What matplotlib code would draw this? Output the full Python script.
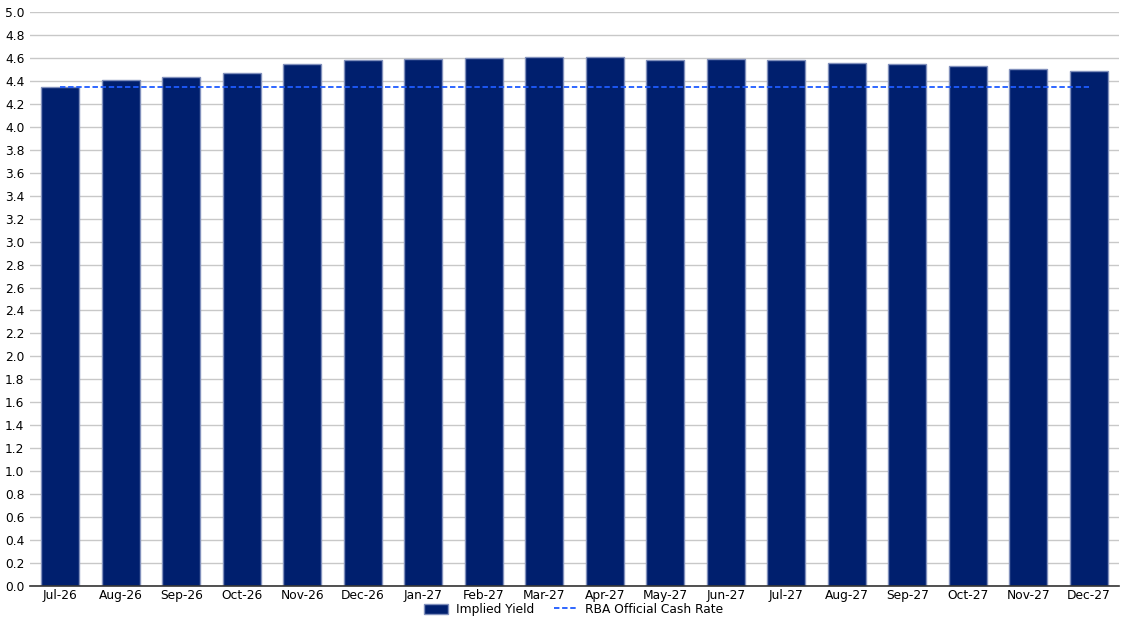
import matplotlib
matplotlib.use("Agg")
import matplotlib.pyplot as plt
import numpy as np

categories = ["Jul-26", "Aug-26", "Sep-26", "Oct-26", "Nov-26", "Dec-26",
              "Jan-27", "Feb-27", "Mar-27", "Apr-27", "May-27", "Jun-27",
              "Jul-27", "Aug-27", "Sep-27", "Oct-27", "Nov-27", "Dec-27"]
implied_yield = [4.35, 4.41, 4.43, 4.47, 4.55, 4.58, 4.59, 4.60, 4.61,
                 4.61, 4.58, 4.59, 4.58, 4.56, 4.545, 4.53, 4.50, 4.49]
cash_rate = [4.35] * len(categories)
y_ticks = [round(0.2 * i, 1) for i in range(26)]

plt.rcParams['font.family'] = ['DejaVu Sans']
fig = plt.figure(figsize=(11.25, 6.17), dpi=100)
ax = fig.add_axes([30 / 1125, 31 / 617, 1089 / 1125, 574 / 617])

x = np.arange(len(categories))
bars = ax.bar(x, implied_yield, width=0.62, color="#001F6E", edgecolor="#8190BC",
              linewidth=1.0, label="Implied Yield", zorder=2)
line, = ax.plot(x, cash_rate, color="#1E5BFF", linestyle=(0, (3, 1.5)), linewidth=1.3,
                label="RBA Official Cash Rate", zorder=3)

ax.set_xlim(-0.5, len(categories) - 0.5)
ax.set_ylim(0, 5.0)
ax.set_yticks(y_ticks)
ax.set_yticklabels([f"{v:.1f}" for v in y_ticks], fontsize=8.8)
ax.set_xticks(x)
ax.set_xticklabels(categories, fontsize=8.8)
ax.tick_params(axis="both", length=0)
ax.tick_params(axis="x", pad=2)
ax.tick_params(axis="y", pad=4)
ax.yaxis.grid(True, color="#C8C8C8", linewidth=1.0, zorder=0)
ax.set_axisbelow(True)
for s in ["top", "right", "left"]:
    ax.spines[s].set_visible(False)
ax.spines["bottom"].set_color("#333333")
ax.spines["bottom"].set_linewidth(1.2)

fig.legend([bars, line], ["Implied Yield", "RBA Official Cash Rate"],
           loc="lower center", bbox_to_anchor=(0.51, -0.012), ncol=2, frameon=False,
           fontsize=8.8, handlelength=2.0, handleheight=0.9, columnspacing=1.6,
           handletextpad=0.6, borderpad=0.2)

fig.savefig("out.png", dpi=100)
